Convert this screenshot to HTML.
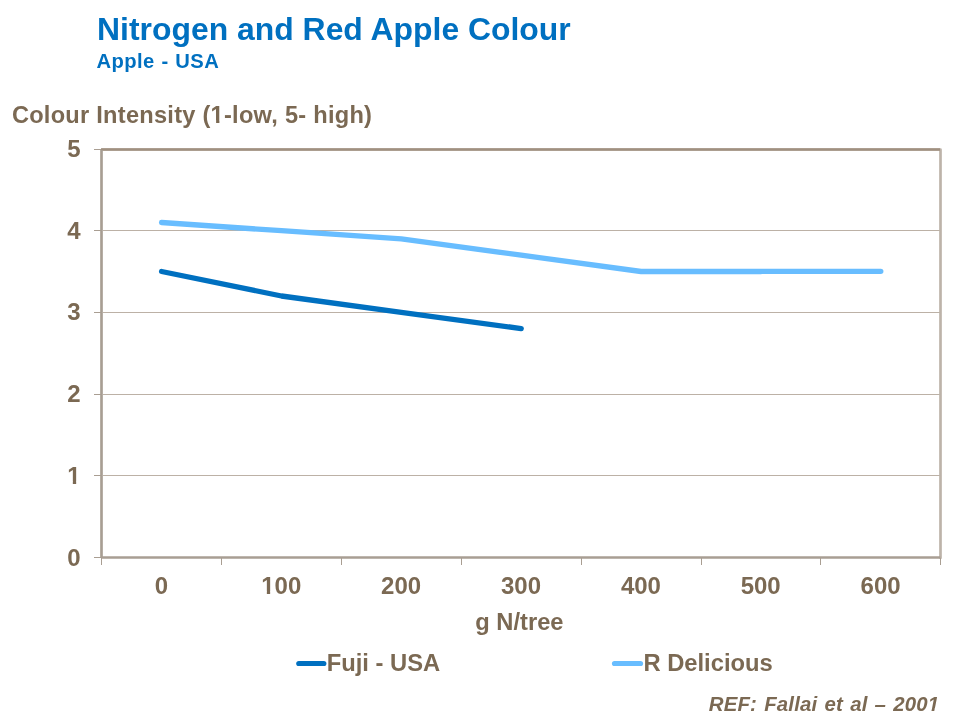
<!DOCTYPE html>
<html lang="en">
<head>
<meta charset="utf-8">
<title>Nitrogen and Red Apple Colour</title>
<style>
html,body{margin:0;padding:0;background:#fff;}
body{width:960px;height:720px;overflow:hidden;position:relative;font-family:"Liberation Sans",Arial,sans-serif;}
svg{position:absolute;left:0;top:0;display:block;}
svg text{font-family:"Liberation Sans",Arial,sans-serif;font-weight:bold;}
.t{fill:#7b6953;font-size:24px;}
</style>
</head>
<body>
<svg width="960" height="720" viewBox="0 0 960 720">
  <rect x="0" y="0" width="960" height="720" fill="#ffffff"/>

  <!-- titles -->
  <text x="97.1" y="40.2" font-size="31.9" fill="#0070c0">Nitrogen and Red Apple Colour</text>
  <text x="96.5" y="68.3" font-size="20.2" letter-spacing="0.4" word-spacing="0.8" fill="#0070c0">Apple - USA</text>
  <text class="t" x="11.9" y="122.9" letter-spacing="0.26" style="font-size:23.6px">Colour Intensity (1-low, 5- high)</text>

  <!-- gridlines -->
  <g fill="#bcb1a6" shape-rendering="crispEdges">
    <rect x="103" y="230" width="837" height="1"/>
    <rect x="103" y="312" width="837" height="1"/>
    <rect x="103" y="394" width="837" height="1"/>
    <rect x="103" y="475" width="837" height="1"/>
  </g>

  <!-- plot border: right + top -->
  <path d="M101.5 149.5 H940.5 V558.83" stroke="#bdb3a9" stroke-width="2.67" fill="none" stroke-linejoin="round" stroke-linecap="butt"/>
  <path d="M101 149.5 H940" stroke="#a09080" stroke-width="2.67" fill="none"/>
  <!-- axes -->
  <path d="M101.5 149.9 V557.5" stroke="#a89e93" stroke-width="2.67" fill="none"/>
  <path d="M101 557.5 H940.3" stroke="#a89e93" stroke-width="2.67" fill="none"/>

  <!-- ticks -->
  <g fill="#a99e92" shape-rendering="crispEdges">
    <rect x="94" y="149" width="7" height="1"/>
    <rect x="94" y="230" width="7" height="1"/>
    <rect x="94" y="312" width="7" height="1"/>
    <rect x="94" y="394" width="7" height="1"/>
    <rect x="94" y="475" width="7" height="1"/>
    <rect x="94" y="557" width="7" height="1"/>
    <rect x="101" y="558" width="1" height="7"/>
    <rect x="221" y="558" width="1" height="7"/>
    <rect x="341" y="558" width="1" height="7"/>
    <rect x="461" y="558" width="1" height="7"/>
    <rect x="581" y="558" width="1" height="7"/>
    <rect x="701" y="558" width="1" height="7"/>
    <rect x="820" y="558" width="1" height="7"/>
    <rect x="940" y="558" width="1" height="7"/>
  </g>

  <!-- series -->
  <polyline points="161.6,222.5 281.5,230.7 401.3,238.9 521.2,255.2 641.1,271.5 760.9,271.5 760.9,271.3 880.8,271.3" fill="none" stroke="#68bdff" stroke-width="5.33" stroke-linecap="round" stroke-linejoin="round"/>
  <polyline points="161.6,271.5 281.5,296 401.3,312.3 521.2,328.6" fill="none" stroke="#0070c0" stroke-width="5.33" stroke-linecap="round" stroke-linejoin="round"/>

  <!-- y labels -->
  <g class="t" text-anchor="end">
    <text x="80.5" y="157.2">5</text>
    <text x="80.5" y="238.8">4</text>
    <text x="80.5" y="320">3</text>
    <text x="80.5" y="402">2</text>
    <text x="80.5" y="484">1</text>
    <text x="80.5" y="566">0</text>
  </g>
  <!-- x labels -->
  <g class="t" text-anchor="middle">
    <text x="161.4" y="594">0</text>
    <text x="281.3" y="594">100</text>
    <text x="401.1" y="594">200</text>
    <text x="521" y="594">300</text>
    <text x="640.9" y="594">400</text>
    <text x="760.7" y="594">500</text>
    <text x="880.6" y="594">600</text>
  </g>
  <text class="t" x="475.3" y="629.6" style="font-size:23.7px">g N/tree</text>

  <!-- legend -->
  <path d="M298.8 663.5 H323.8" stroke="#0070c0" stroke-width="5.2" stroke-linecap="round"/>
  <text class="t" x="326.7" y="670.6" style="font-size:23.75px">Fuji - USA</text>
  <path d="M614.5 663.5 H640.5" stroke="#68bdff" stroke-width="5.2" stroke-linecap="round"/>
  <text class="t" x="643.4" y="670.7" style="font-size:23.75px">R Delicious</text>

  <!-- ref -->
  <text x="939.4" y="710.6" text-anchor="end" font-size="20.4" letter-spacing="0.2" word-spacing="1.2" font-style="italic" fill="#7b6953">REF: Fallai et al – 2001</text>
  <!-- trim the serif foot of the digit 1 (reference face has a plain stem) -->
  <g fill="#ffffff">
    <rect x="67.5" y="481" width="5.33" height="3.6"/>
    <rect x="76.17" y="481" width="5" height="3.6"/>
    <rect x="261.3" y="591" width="5.55" height="3.6"/>
    <rect x="270.15" y="591" width="4.5" height="3.6"/>
    <rect x="211.3" y="120" width="4.8" height="3.6"/>
    <rect x="219.4" y="120" width="4.8" height="3.6"/>
    <polygon points="926.5,708 932.09,708 931.37,711.6 926.5,711.6"/>
    <polygon points="934.85,708 939.2,708 939.2,711.6 934.13,711.6"/>
  </g>
</svg>
</body>
</html>
